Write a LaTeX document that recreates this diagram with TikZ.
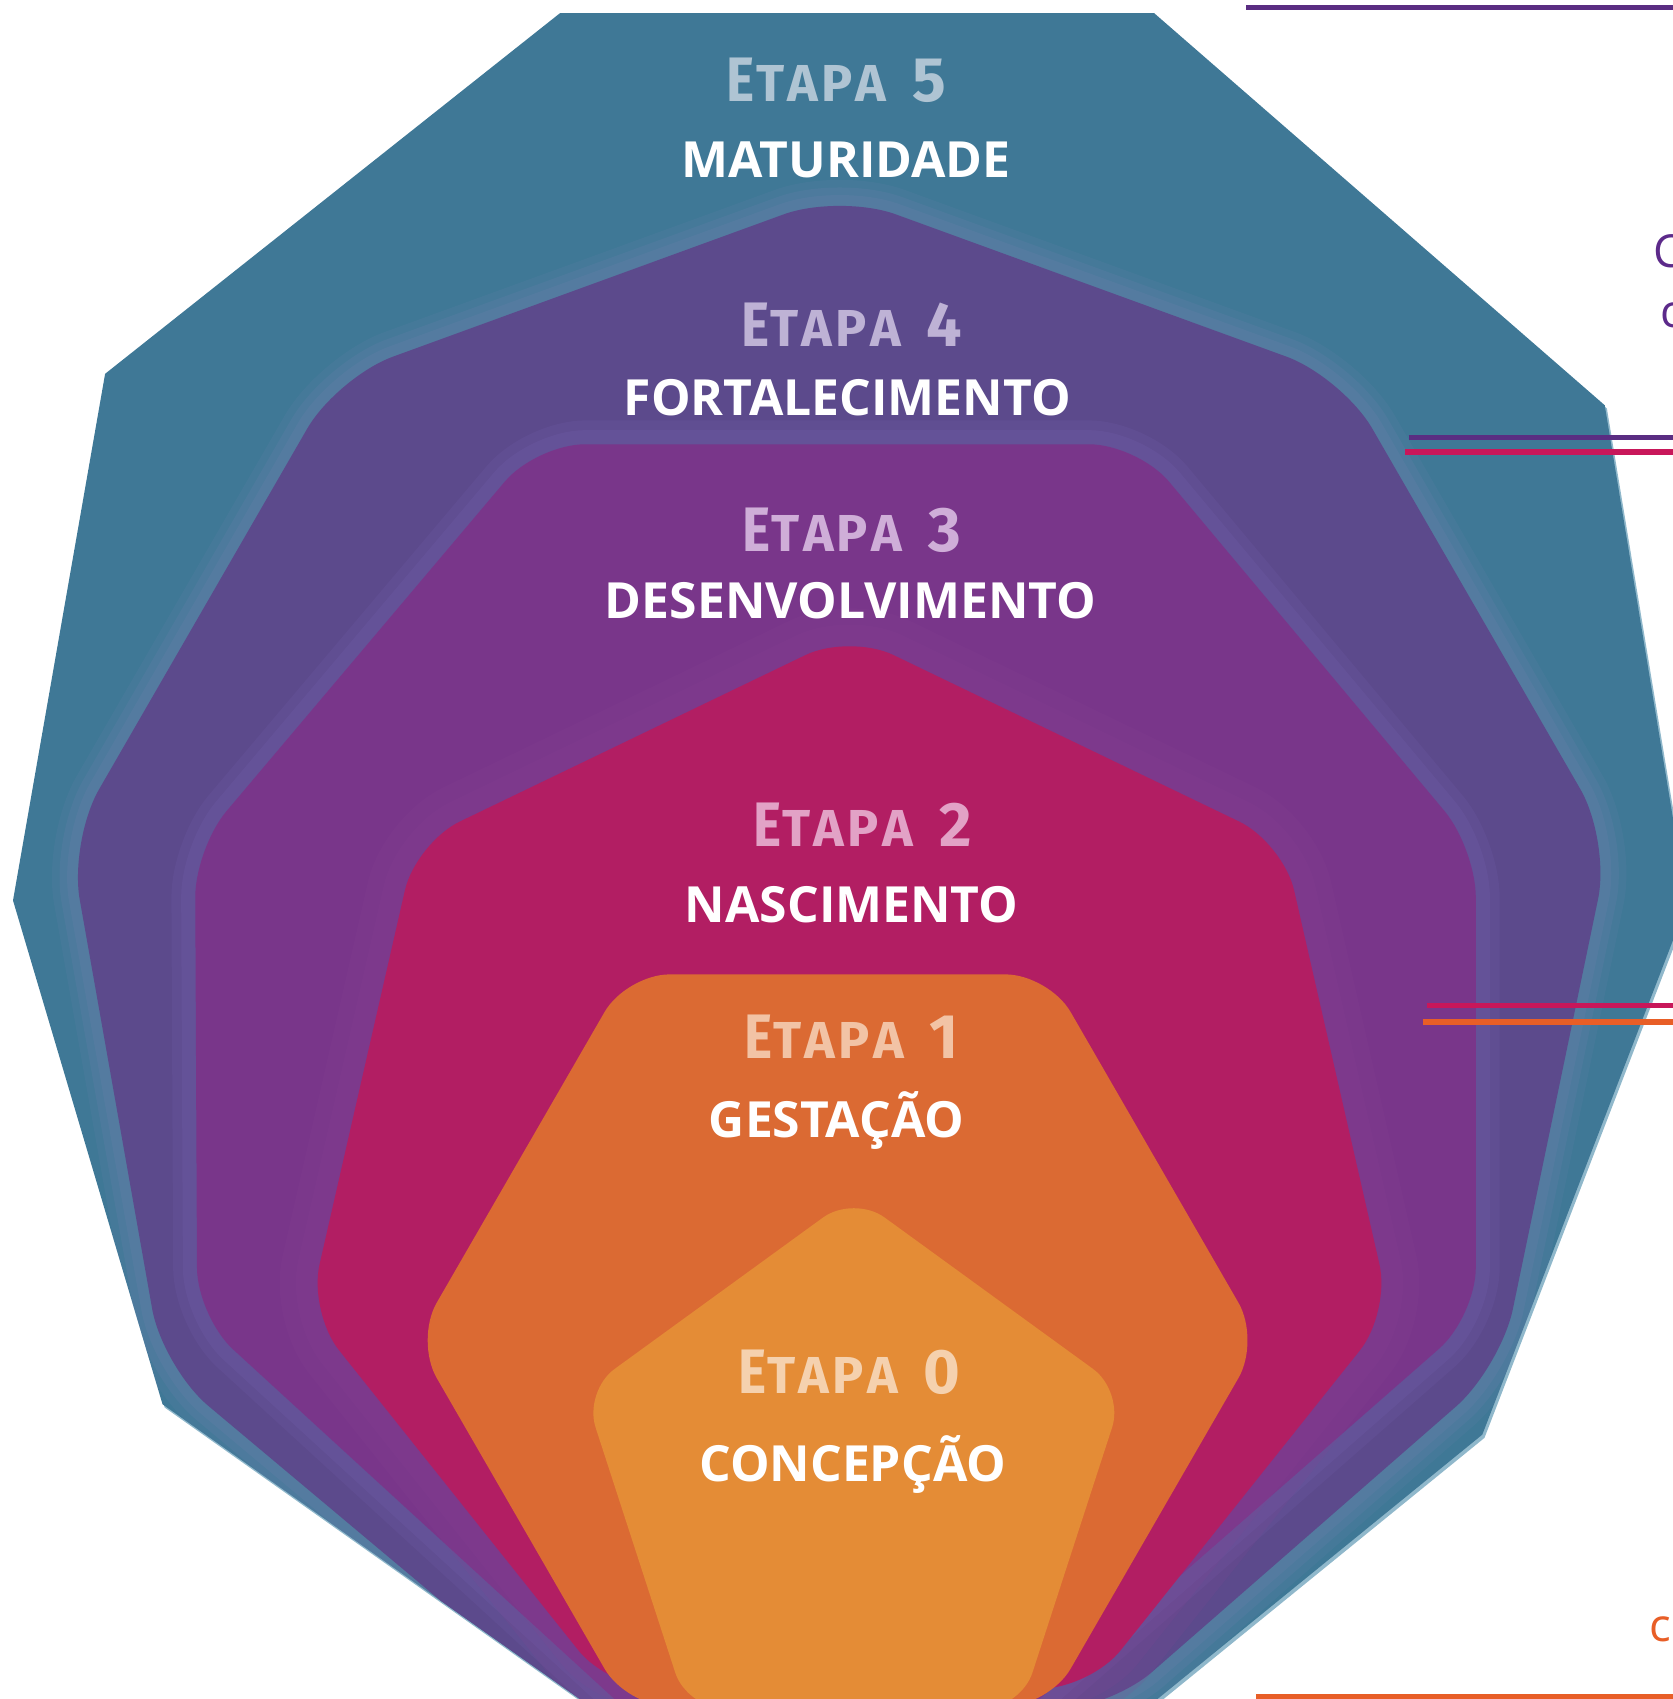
\documentclass[tikz,border=0pt]{standalone}
\usepackage{fontspec}
\usepackage{graphicx}
\setmainfont{Open Sans}
\newfontfamily\etapafont{Fira Sans}
\definecolor{teal5}{HTML}{3F7896}
\definecolor{tealedge}{HTML}{90B8CB}
\definecolor{halo4}{HTML}{6580AA}
\definecolor{lay4}{HTML}{5C4A8C}
\definecolor{halo3}{HTML}{6E5AA6}
\definecolor{lay3}{HTML}{79368A}
\definecolor{halo2}{HTML}{8A4496}
\definecolor{lay2}{HTML}{B21E63}
\definecolor{lay1}{HTML}{DB6A33}
\definecolor{lay0}{HTML}{E48C36}
\definecolor{et5}{HTML}{AFC4D3}
\definecolor{et4}{HTML}{BEB2D5}
\definecolor{et3}{HTML}{CFAED8}
\definecolor{et2}{HTML}{E2A2C6}
\definecolor{et1}{HTML}{F2C3A5}
\definecolor{et0}{HTML}{F5D1AE}
\definecolor{linepurple}{HTML}{5A2D82}
\definecolor{linemagenta}{HTML}{C8175A}
\definecolor{lineorange}{HTML}{E85E27}
\definecolor{textpurple}{HTML}{5C2A8A}
\newcommand\etapatext[1]{{\etapafont\bfseries\fontsize{58}{58}\selectfont\scalebox{0.85}[1]{E}\kern1pt\fontsize{48}{48}\selectfont T\kern3pt A\kern3pt P\kern3pt A\kern24pt\fontsize{58}{58}\selectfont #1}}
\begin{document}
\begin{tikzpicture}[x=1pt,y=-1pt,
  etapa/.style={anchor=base, inner sep=0pt},
  lbl/.style={anchor=base, inner sep=0pt, text=white, font=\bfseries\fontsize{46}{46}\selectfont},
  sidetxt/.style={anchor=base west, inner sep=0pt, font=\fontsize{42}{42}\selectfont},
  rule/.style={line width=5pt},
  glow/.style={line join=round}]
\useasboundingbox (0,0) rectangle (1544,1568);
\clip (0,0) rectangle (1544,1568);
% layer 5 (teal)
\def\tealpath{(517,12) -- (1065,12) -- (1481,374) -- (1557,834) -- (1368,1324) -- (906,1700) -- (722,1700) -- (150,1296) -- (12,831) -- (97,345) -- cycle}
\fill[tealedge, shift={(2,3)}] \tealpath;
\fill[teal5] \tealpath;
\begin{scope}
\clip \tealpath;
% layer 4 (nonagon)
\def\layfour{(775,179) -- (1239,348) -- (1486,776) -- (1385,1262) -- (1022,1579) -- (528,1579) -- (150,1262) -- (64,776) -- (311,348) -- cycle}
\draw[glow, halo4, opacity=0.18, line width=48pt, rounded corners=55pt] \layfour;
\draw[glow, halo4, opacity=0.25, line width=34pt, rounded corners=55pt] \layfour;
\draw[glow, halo4, opacity=0.3, line width=20pt, rounded corners=55pt] \layfour;
\fill[lay4, rounded corners=55pt] \layfour;
% layer 3 (octagon)
\def\laythree{(495,410) -- (1050,410) -- (1362,783) -- (1362,1215) -- (923,1600) -- (602,1600) -- (182,1215) -- (180,783) -- cycle}
\draw[glow, halo3, opacity=0.25, line width=44pt, rounded corners=45pt] \laythree;
\draw[glow, halo3, opacity=0.35, line width=26pt, rounded corners=45pt] \laythree;
\fill[lay3, rounded corners=45pt] \laythree;
% layer 2 (heptagon)
\def\laytwo{(270:512) -- (321.43:512) -- (12.86:512) -- (64.29:512) -- (115.71:512) -- (167.14:512) -- (218.57:512) -- cycle}
\draw[glow, halo2, opacity=0.15, line width=70pt, rounded corners=45pt, shift={(784,1097)}] \laytwo;
\draw[glow, halo2, opacity=0.15, line width=40pt, rounded corners=45pt, shift={(784,1097)}] \laytwo;
\fill[lay2, rounded corners=45pt, shift={(784,1097)}] \laytwo;
% layer 1 (hexagon)
\fill[lay1, rounded corners=40pt, shift={(773,1237)}] (240:390) -- (300:390) -- (0:390) -- (60:390) -- (120:390) -- (180:390) -- cycle;
% layer 0 (pentagon)
\fill[lay0, rounded corners=35pt, shift={(788,1365)}] (270:262) -- (342:262) -- (54:262) -- (126:262) -- (198:262) -- cycle;
\end{scope}
% texts
\node[etapa, text=et5] (e5) at (772,94) {\etapatext{5}};
\node[lbl] (t5) at (781,164) {MATURIDADE};
\node[etapa, text=et4] (e4) at (786,320) {\etapatext{4}};
\node[lbl] (t4) at (782,383) {FORTALECIMENTO};
\node[etapa, text=et3] (e3) at (786,509) {\etapatext{3}};
\node[lbl] (t3) at (785,571) {DESENVOLVIMENTO};
\node[etapa, text=et2] (e2) at (796,781) {\etapatext{2}};
\node[lbl] (t2) at (786,851) {NASCIMENTO};
\node[etapa, text=et1] (e1) at (786,977) {\etapatext{1}};
\node[lbl] (t1) at (772,1050) {GESTAÇÃO};
\node[etapa, text=et0] (e0) at (784,1286) {\etapatext{0}};
\node[lbl] (t0) at (787,1367) {CONCEPÇÃO};
% side texts (cut by the right edge, as in the reference)
\node[sidetxt, text=textpurple] (s1) at (1526,247) {C};
\node[sidetxt, text=textpurple] (s2) at (1532,302) {c};
\node[sidetxt, text=lineorange] (s3) at (1522,1515) {c};
% rules
\coordinate (r1a) at (1150,7);    \coordinate (r1b) at (1560,7);
\coordinate (r2a) at (1300,404);  \coordinate (r2b) at (1560,404);
\coordinate (r3a) at (1297,417);  \coordinate (r3b) at (1560,417);
\coordinate (r4a) at (1317,928);  \coordinate (r4b) at (1560,928);
\coordinate (r5a) at (1313,943);  \coordinate (r5b) at (1560,943);
\coordinate (r6a) at (1159,1566); \coordinate (r6b) at (1560,1566);
\draw[rule, linepurple] (r1a) -- (r1b);
\draw[rule, linepurple] (r2a) -- (r2b);
\draw[rule, linemagenta] (r3a) -- (r3b);
\draw[rule, linemagenta] (r4a) -- (r4b);
\draw[rule, lineorange] (r5a) -- (r5b);
\draw[rule, lineorange] (r6a) -- (r6b);
\end{tikzpicture}
\end{document}
